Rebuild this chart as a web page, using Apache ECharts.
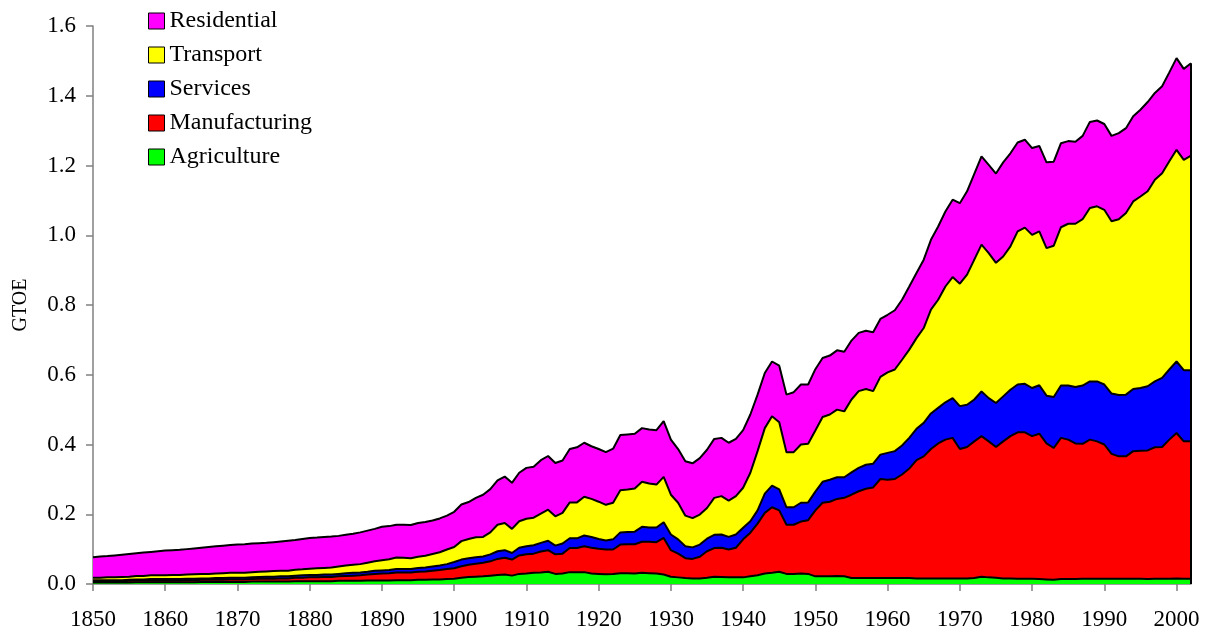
<!DOCTYPE html>
<html>
<head>
<meta charset="utf-8">
<title>GTOE by sector</title>
<script src="https://cdn.jsdelivr.net/npm/echarts@6/dist/echarts.min.js"></script>
<style>
  html, body { margin: 0; padding: 0; background: #fff; }
  #chart { width: 1213px; height: 642px; }
</style>
</head>
<body>
<div id="chart"></div>
<script>
// years 1850..2002
var years = []
for (var y = 1850; y <= 2002; y++) years.push(String(y))

// GTOE per sector, one value per year
var agriculture = [
  0.004, 0.004, 0.004, 0.004, 0.004, 0.004, 0.005, 0.005, 0.005, 0.005,
  0.005, 0.005, 0.005, 0.005, 0.005, 0.006, 0.006, 0.006, 0.006, 0.006,
  0.006, 0.006, 0.007, 0.007, 0.007, 0.007, 0.007, 0.007, 0.008, 0.008,
  0.008, 0.008, 0.008, 0.008, 0.009, 0.009, 0.009, 0.009, 0.010, 0.010,
  0.010, 0.010, 0.011, 0.011, 0.011, 0.012, 0.012, 0.013, 0.013, 0.014,
  0.015, 0.018, 0.020, 0.021, 0.022, 0.024, 0.026, 0.027, 0.024, 0.029,
  0.030, 0.032, 0.033, 0.035, 0.029, 0.030, 0.034, 0.034, 0.034, 0.030,
  0.029, 0.028, 0.029, 0.031, 0.031, 0.030, 0.032, 0.031, 0.030, 0.027,
  0.021, 0.019, 0.017, 0.016, 0.016, 0.018, 0.021, 0.020, 0.019, 0.019,
  0.019, 0.022, 0.025, 0.030, 0.032, 0.035, 0.029, 0.029, 0.030, 0.029,
  0.022, 0.022, 0.022, 0.023, 0.022, 0.017, 0.017, 0.017, 0.017, 0.017,
  0.017, 0.017, 0.017, 0.017, 0.016, 0.016, 0.016, 0.016, 0.016, 0.016,
  0.016, 0.016, 0.017, 0.021, 0.019, 0.018, 0.016, 0.016, 0.015, 0.015,
  0.015, 0.014, 0.013, 0.012, 0.014, 0.014, 0.014, 0.015, 0.015, 0.015,
  0.015, 0.015, 0.015, 0.015, 0.015, 0.015, 0.014, 0.015, 0.015, 0.015,
  0.016, 0.015, 0.015
]
var manufacturing = [
  0.004, 0.004, 0.004, 0.004, 0.004, 0.005, 0.005, 0.005, 0.005, 0.005,
  0.005, 0.005, 0.005, 0.006, 0.006, 0.006, 0.006, 0.006, 0.006, 0.007,
  0.007, 0.007, 0.007, 0.008, 0.008, 0.008, 0.009, 0.009, 0.010, 0.010,
  0.011, 0.011, 0.012, 0.012, 0.013, 0.014, 0.015, 0.016, 0.017, 0.019,
  0.020, 0.021, 0.022, 0.022, 0.022, 0.023, 0.024, 0.025, 0.027, 0.029,
  0.030, 0.033, 0.035, 0.037, 0.039, 0.041, 0.046, 0.048, 0.046, 0.053,
  0.055, 0.055, 0.060, 0.062, 0.056, 0.057, 0.069, 0.069, 0.074, 0.074,
  0.072, 0.071, 0.070, 0.082, 0.083, 0.084, 0.089, 0.090, 0.090, 0.105,
  0.076, 0.068, 0.057, 0.056, 0.062, 0.076, 0.082, 0.084, 0.080, 0.085,
  0.109, 0.125, 0.148, 0.174, 0.188, 0.176, 0.141, 0.141, 0.149, 0.154,
  0.189, 0.211, 0.214, 0.221, 0.225, 0.239, 0.249, 0.256, 0.260, 0.284,
  0.282, 0.284, 0.297, 0.314, 0.339, 0.350, 0.371, 0.387, 0.398, 0.403,
  0.371, 0.377, 0.392, 0.403, 0.390, 0.375, 0.393, 0.408, 0.420, 0.420,
  0.409, 0.417, 0.390, 0.378, 0.405, 0.400, 0.389, 0.387, 0.399, 0.394,
  0.385, 0.358, 0.351, 0.351, 0.366, 0.367, 0.369, 0.377, 0.378, 0.399,
  0.417, 0.394, 0.394
]
var services = [
  0.003, 0.003, 0.003, 0.003, 0.003, 0.003, 0.003, 0.003, 0.004, 0.004,
  0.004, 0.004, 0.004, 0.004, 0.004, 0.004, 0.004, 0.005, 0.005, 0.005,
  0.005, 0.005, 0.005, 0.005, 0.006, 0.006, 0.006, 0.006, 0.006, 0.007,
  0.007, 0.007, 0.007, 0.007, 0.007, 0.008, 0.008, 0.008, 0.008, 0.009,
  0.009, 0.009, 0.010, 0.010, 0.010, 0.011, 0.011, 0.012, 0.013, 0.014,
  0.018, 0.019, 0.019, 0.019, 0.018, 0.020, 0.022, 0.022, 0.019, 0.022,
  0.023, 0.024, 0.025, 0.027, 0.025, 0.029, 0.028, 0.028, 0.031, 0.031,
  0.028, 0.026, 0.029, 0.035, 0.035, 0.036, 0.043, 0.041, 0.042, 0.045,
  0.045, 0.041, 0.034, 0.033, 0.035, 0.036, 0.038, 0.038, 0.036, 0.038,
  0.033, 0.033, 0.038, 0.055, 0.062, 0.060, 0.050, 0.050, 0.054, 0.051,
  0.054, 0.060, 0.063, 0.062, 0.059, 0.064, 0.067, 0.069, 0.068, 0.070,
  0.077, 0.080, 0.083, 0.088, 0.090, 0.096, 0.102, 0.102, 0.107, 0.114,
  0.123, 0.121, 0.120, 0.128, 0.124, 0.126, 0.129, 0.133, 0.137, 0.139,
  0.138, 0.139, 0.137, 0.146, 0.150, 0.155, 0.162, 0.167, 0.167, 0.172,
  0.172, 0.173, 0.176, 0.177, 0.178, 0.180, 0.184, 0.189, 0.198, 0.201,
  0.205, 0.204, 0.204
]
var transport = [
  0.007, 0.007, 0.008, 0.008, 0.009, 0.009, 0.010, 0.010, 0.011, 0.011,
  0.011, 0.012, 0.012, 0.012, 0.013, 0.013, 0.013, 0.013, 0.014, 0.014,
  0.014, 0.014, 0.015, 0.015, 0.015, 0.016, 0.016, 0.016, 0.017, 0.017,
  0.018, 0.019, 0.019, 0.020, 0.021, 0.022, 0.023, 0.024, 0.026, 0.027,
  0.029, 0.031, 0.033, 0.032, 0.031, 0.032, 0.034, 0.036, 0.038, 0.042,
  0.043, 0.053, 0.055, 0.057, 0.056, 0.063, 0.076, 0.078, 0.069, 0.076,
  0.079, 0.079, 0.084, 0.089, 0.084, 0.088, 0.103, 0.103, 0.111, 0.109,
  0.107, 0.102, 0.105, 0.121, 0.122, 0.124, 0.129, 0.126, 0.123, 0.130,
  0.114, 0.105, 0.088, 0.084, 0.086, 0.088, 0.106, 0.110, 0.104, 0.110,
  0.115, 0.139, 0.170, 0.188, 0.199, 0.193, 0.158, 0.158, 0.167, 0.168,
  0.175, 0.186, 0.187, 0.194, 0.189, 0.209, 0.220, 0.217, 0.208, 0.223,
  0.231, 0.234, 0.246, 0.253, 0.260, 0.272, 0.298, 0.310, 0.332, 0.347,
  0.351, 0.373, 0.401, 0.421, 0.416, 0.402, 0.401, 0.411, 0.439, 0.448,
  0.439, 0.441, 0.423, 0.434, 0.454, 0.464, 0.468, 0.477, 0.497, 0.502,
  0.501, 0.494, 0.504, 0.521, 0.538, 0.549, 0.559, 0.578, 0.587, 0.597,
  0.607, 0.603, 0.615
]
var residential = [
  0.059, 0.061, 0.061, 0.063, 0.064, 0.065, 0.065, 0.067, 0.067, 0.069,
  0.071, 0.071, 0.072, 0.073, 0.074, 0.075, 0.077, 0.078, 0.079, 0.080,
  0.081, 0.082, 0.082, 0.082, 0.082, 0.083, 0.084, 0.086, 0.085, 0.087,
  0.088, 0.088, 0.089, 0.089, 0.088, 0.088, 0.089, 0.091, 0.092, 0.093,
  0.096, 0.095, 0.094, 0.095, 0.095, 0.097, 0.097, 0.096, 0.097, 0.097,
  0.101, 0.105, 0.106, 0.113, 0.121, 0.124, 0.127, 0.133, 0.132, 0.139,
  0.146, 0.146, 0.153, 0.154, 0.153, 0.150, 0.153, 0.158, 0.155, 0.151,
  0.151, 0.151, 0.155, 0.158, 0.158, 0.157, 0.154, 0.155, 0.156, 0.160,
  0.158, 0.154, 0.156, 0.157, 0.162, 0.167, 0.169, 0.167, 0.166, 0.164,
  0.165, 0.167, 0.162, 0.158, 0.157, 0.162, 0.165, 0.172, 0.172, 0.170,
  0.176, 0.169, 0.169, 0.170, 0.171, 0.169, 0.167, 0.167, 0.169, 0.166,
  0.165, 0.170, 0.172, 0.181, 0.187, 0.196, 0.200, 0.210, 0.215, 0.222,
  0.231, 0.239, 0.246, 0.253, 0.253, 0.256, 0.270, 0.267, 0.255, 0.252,
  0.249, 0.245, 0.246, 0.241, 0.241, 0.237, 0.235, 0.239, 0.247, 0.246,
  0.246, 0.245, 0.247, 0.243, 0.244, 0.249, 0.256, 0.249, 0.249, 0.255,
  0.263, 0.261, 0.265
]

var font = '"Liberation Serif", "Times New Roman", serif'
var last = years.length - 1
// total of the last year, for the closing edge on the right
var lastTotal = [agriculture, manufacturing, services, transport, residential]
  .reduce(function (s, arr) { return s + arr[last] }, 0)

function areaSeries (name, color, values) {
  return {
    name: name,
    type: 'line',
    stack: 'total',
    symbol: 'none',
    data: values,
    itemStyle: { color: color },
    lineStyle: { color: '#000', width: 2 },
    areaStyle: { color: color, opacity: 1 }
  }
}

var resi = areaSeries('Residential', '#ff00ff', residential)
resi.markLine = {
  silent: true,
  symbol: ['none', 'none'],
  label: { show: false },
  lineStyle: { color: '#000', type: 'solid', width: 2 },
  data: [[{ coord: [years[last], 0] }, { coord: [years[last], lastTotal] }]]
}

var chart = echarts.init(document.getElementById('chart'))
var option = {
  animation: false,
  grid: { left: 93, right: 22, top: 26, bottom: 58 },
  legend: {
    orient: 'vertical',
    left: 148,
    top: 9,
    padding: 0,
    icon: 'rect',
    itemWidth: 16,
    itemHeight: 16,
    itemGap: 10,
    itemStyle: { borderColor: '#000', borderWidth: 1 },
    textStyle: { fontFamily: font, fontSize: 24, color: '#000', lineHeight: 24 },
    data: ['Residential', 'Transport', 'Services', 'Manufacturing', 'Agriculture']
  },
  xAxis: {
    type: 'category',
    data: years,
    boundaryGap: false,
    axisLine: { lineStyle: { color: '#808080', width: 1.5 } },
    axisTick: {
      length: 7,
      lineStyle: { color: '#808080', width: 1.5 },
      interval: function (i) { return i % 10 === 0 }
    },
    axisLabel: {
      color: '#000',
      fontFamily: font,
      fontSize: 23,
      margin: 24,
      interval: function (i) { return i % 10 === 0 }
    },
    splitLine: { show: false }
  },
  yAxis: {
    type: 'value',
    min: 0,
    max: 1.6,
    interval: 0.2,
    name: 'GTOE',
    nameLocation: 'middle',
    nameGap: 62,
    nameTextStyle: { fontFamily: font, fontSize: 20, color: '#000' },
    axisLine: { show: true, lineStyle: { color: '#808080', width: 1.5 } },
    axisTick: { show: true, length: 7, lineStyle: { color: '#808080', width: 1.5 } },
    axisLabel: {
      color: '#000',
      fontFamily: font,
      fontSize: 23,
      margin: 17,
      formatter: function (v) { return v.toFixed(1) }
    },
    splitLine: { show: false }
  },
  series: [
    areaSeries('Agriculture', '#00ff00', agriculture),
    areaSeries('Manufacturing', '#ff0000', manufacturing),
    areaSeries('Services', '#0000ff', services),
    areaSeries('Transport', '#ffff00', transport),
    resi
  ]
}
chart.setOption(option)
</script>
</body>
</html>
